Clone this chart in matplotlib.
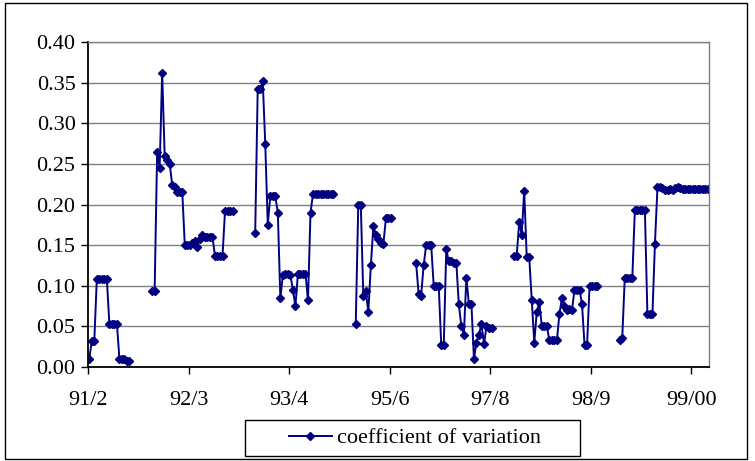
import numpy as np
import matplotlib
matplotlib.use("Agg")
import matplotlib.pyplot as plt
from matplotlib.patches import Rectangle
from matplotlib.lines import Line2D

nan = np.nan

# coefficient of variation, one value per period (nan = no data)
cv = [
    0.010, 0.032, 0.032, 0.108, 0.108, 0.108, 0.108, 0.108, 0.053, 0.053,
    0.053, 0.053, 0.010, 0.010, 0.010, 0.008, 0.007, nan, nan, nan,
    nan, nan, nan, nan, nan, 0.093, 0.093, 0.265, 0.245, 0.362,
    0.260, 0.255, 0.250, 0.224, 0.222, 0.215, 0.215, 0.215, 0.150, 0.150,
    0.150, 0.153, 0.155, 0.148, 0.158, 0.162, 0.160, 0.160, 0.160, 0.160,
    0.137, 0.137, 0.137, 0.137, 0.192, 0.192, 0.192, 0.192, nan, nan,
    nan, nan, nan, nan, nan, nan, 0.165, 0.342, 0.342, 0.352,
    0.275, 0.175, 0.210, 0.210, 0.210, 0.190, 0.085, 0.113, 0.115, 0.115,
    0.113, 0.095, 0.075, 0.115, 0.115, 0.115, 0.115, 0.082, 0.190, 0.213,
    0.213, 0.213, 0.213, 0.213, 0.213, 0.213, 0.213, 0.213, nan, nan,
    nan, nan, nan, nan, nan, nan, 0.053, 0.200, 0.200, 0.088,
    0.093, 0.068, 0.125, 0.173, 0.163, 0.158, 0.153, 0.152, 0.183, 0.183,
    0.183, nan, nan, nan, nan, nan, nan, nan, nan, nan,
    0.128, 0.090, 0.088, 0.125, 0.150, 0.150, 0.150, 0.100, 0.100, 0.100,
    0.027, 0.027, 0.145, 0.130, 0.130, 0.128, 0.128, 0.077, 0.050, 0.040,
    0.110, 0.077, 0.078, 0.010, 0.030, 0.040, 0.053, 0.028, 0.050, 0.048,
    0.048, nan, nan, nan, nan, nan, nan, nan, nan, 0.137,
    0.137, 0.178, 0.163, 0.217, 0.135, 0.135, 0.083, 0.030, 0.068, 0.080,
    0.050, 0.050, 0.050, 0.033, 0.033, 0.033, 0.033, 0.065, 0.085, 0.075,
    0.070, 0.072, 0.070, 0.095, 0.095, 0.095, 0.077, 0.027, 0.027, 0.100,
    0.100, 0.100, 0.100, nan, nan, nan, nan, nan, nan, nan,
    nan, 0.033, 0.036, 0.110, 0.110, 0.110, 0.110, 0.193, 0.193, 0.193,
    0.193, 0.193, 0.065, 0.065, 0.065, 0.152, 0.221, 0.221, 0.220, 0.218,
    0.218, 0.219, 0.218, 0.220, 0.222, 0.220, 0.219, 0.219, 0.219, 0.219,
    0.219, 0.219, 0.219, 0.219, 0.219, 0.219, 0.219,
]

# a category label is shown every 40 periods
label_step = 40
tick_labels = ["91/2", "92/3", "93/4", "95/6", "97/8", "98/9", "99/00"]
yticks = [0.00, 0.05, 0.10, 0.15, 0.20, 0.25, 0.30, 0.35, 0.40]

plt.rcParams['font.family'] = ['Liberation Serif', 'DejaVu Serif']
navy = '#000080'

fig = plt.figure(figsize=(7.55, 4.61), dpi=100)
ax = fig.add_axes([88 / 755, 1 - 367 / 461, 621 / 755, 325 / 461])

n = len(cv)
x = np.arange(n) + 0.5
ax.plot(x, cv, color=navy, lw=1.4, marker='D', markersize=4.3,
        markerfacecolor=navy, markeredgecolor=navy)

ax.set_xlim(0, n)
ax.set_ylim(0, 0.40)
ax.set_yticks(yticks)
ax.set_yticklabels(['%.2f' % v for v in yticks])
ax.set_xticks([k * label_step for k in range(len(tick_labels))])
ax.set_xticklabels(tick_labels)
ax.tick_params(axis='both', labelsize=16, direction='out', length=5,
               width=1, colors='black')
ax.tick_params(axis='x', pad=12)
ax.tick_params(axis='y', pad=4)

ax.yaxis.grid(True, color='#808080', lw=1)
ax.set_axisbelow(True)
for side in ['left', 'bottom']:
    ax.spines[side].set_color('black')
    ax.spines[side].set_linewidth(1.3)
for side in ['top', 'right']:
    ax.spines[side].set_color('#808080')
    ax.spines[side].set_linewidth(1)

# legend below the plot area, with its own box
handle = Line2D([], [], color=navy, lw=1.4, marker='D', markersize=4.3)
fig.legend([handle], ['coefficient of variation'],
           loc='center', bbox_to_anchor=(415 / 755, 1 - 438 / 461),
           fontsize=16, frameon=False,
           handlelength=1.95, handletextpad=0.25, borderpad=0)
fig.patches.append(Rectangle((245 / 755, 1 - 456 / 461), 335 / 755, 36 / 461,
                             transform=fig.transFigure, fill=False,
                             edgecolor='black', lw=1))

# chart area border
fig.patches.append(Rectangle((5 / 755, 2 / 461), 742 / 755, 456 / 461,
                             transform=fig.transFigure, fill=False,
                             edgecolor='black', lw=1))

fig.savefig('out.png', dpi=100)
